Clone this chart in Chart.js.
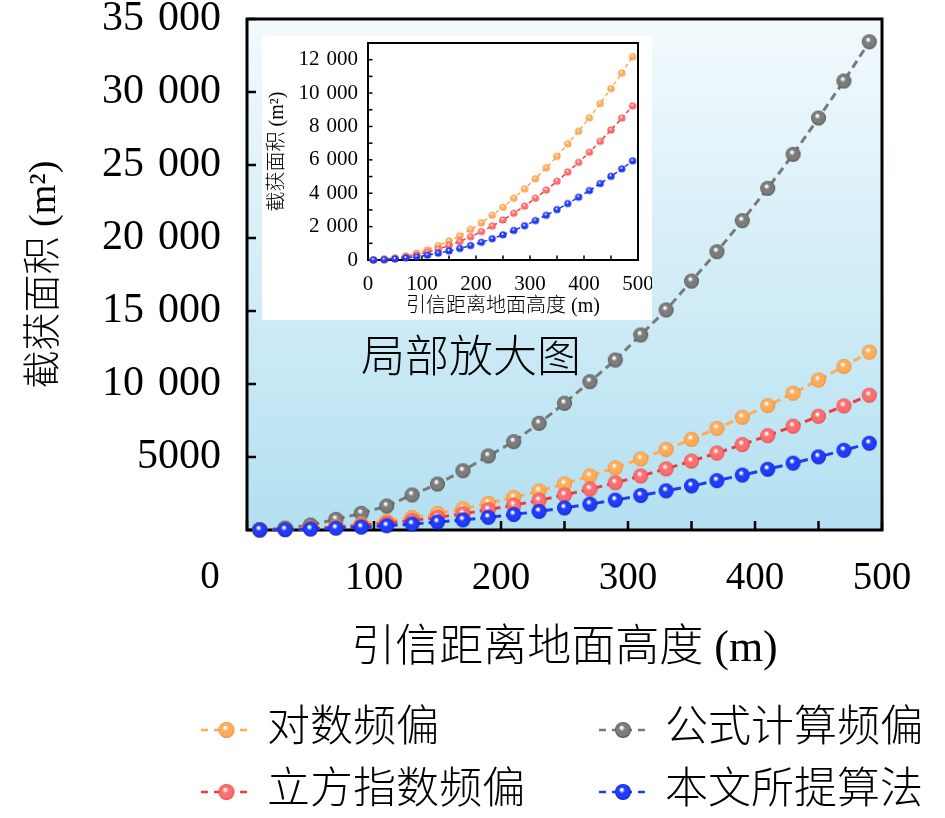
<!DOCTYPE html>
<html>
<head>
<meta charset="utf-8">
<script src="https://cdn.jsdelivr.net/npm/chart.js@4.4.1/dist/chart.umd.min.js"></script>
<style>
  html, body { margin: 0; padding: 0; background: #fff; }
  #wrap { position: relative; width: 945px; height: 818px; }
  #main { position: absolute; left: 0; top: 0; }
  #inset { position: absolute; left: 262px; top: 36px; }
</style>
</head>
<body>
<div id="wrap">
  <canvas id="main" width="945" height="818"></canvas>
  <canvas id="inset" width="390" height="284"></canvas>
</div>
<script>
// heights above ground (m)
const heights = [10, 30, 50, 70, 90, 110, 130, 150, 170, 190, 210, 230, 250,
                 270, 290, 310, 330, 350, 370, 390, 410, 430, 450, 470, 490];

// capture area (m^2)
const logFreq = [5, 45, 125, 245, 410, 610, 860, 1140, 1450, 1830, 2230, 2680, 3160,
                 3700, 4260, 4870, 5520, 6210, 6960, 7720, 8520, 9370, 10270, 11200, 12180];
const formulaFreq = [20, 130, 340, 730, 1140, 1640, 2400, 3150, 4060, 5070, 6050, 7310, 8680,
                     10160, 11640, 13360, 15070, 17050, 19060, 21190, 23400, 25730, 28220, 30750, 33440];
const cubicFreq = [4, 35, 95, 190, 310, 465, 650, 865, 1110, 1390, 1700, 2030, 2400,
                   2800, 3230, 3700, 4190, 4720, 5270, 5850, 6460, 7110, 7790, 8500, 9230];
const proposed = [2, 20, 60, 120, 195, 290, 410, 545, 690, 865, 1060, 1275, 1510,
                  1770, 2050, 2360, 2680, 3020, 3380, 3760, 4160, 4580, 5010, 5460, 5940];

const seriesNames = ['对数频偏', '公式计算频偏', '立方指数频偏', '本文所提算法'];
const xTitle = '引信距离地面高度 (m)';
const yTitle = '截获面积 (m²)';
const insetNote = '局部放大图';

const FONT = "'Liberation Serif', 'Noto Sans CJK SC', serif";
const styles = [
  { line: '#ffab57', body: '#ffad5c', dark: '#e88a2c' },
  { line: '#7a7a7a', body: '#7c7c7c', dark: '#4a4a4a' },
  { line: '#ee3b3b', body: '#ff6e6e', dark: '#d94444' },
  { line: '#1f3df2', body: '#1f3cff', dark: '#0c1fb8' }
];

function sphere(st, r) {
  const s = Math.ceil(2 * r + 2);
  const c = document.createElement('canvas');
  c.width = c.height = s;
  const g = c.getContext('2d');
  const cx = s / 2, cy = s / 2;
  const grd = g.createRadialGradient(cx - r * 0.2, cy - r * 0.35, 0, cx, cy, r);
  grd.addColorStop(0, '#ffffff');
  grd.addColorStop(0.15, '#f4f4f4');
  grd.addColorStop(0.38, st.body);
  grd.addColorStop(0.8, st.body);
  grd.addColorStop(1, st.dark);
  g.fillStyle = grd;
  g.beginPath();
  g.arc(cx, cy, r, 0, Math.PI * 2);
  g.fill();
  return c;
}

// thousands grouped with a slightly wide space, like the LaTeX labels
const group = v => String(v).replace(/\B(?=(\d{3})+(?!\d))/g, ' \u200A');

function pts(arr) { return heights.map((h, i) => ({ x: h, y: arr[i] })); }

const mainSeries = [logFreq, formulaFreq, cubicFreq, proposed];
const drawOrder = [2, 3, 1, 0];

const mainData = {
  datasets: mainSeries.map((arr, i) => ({
    label: seriesNames[i],
    data: pts(arr),
    borderColor: styles[i].line,
    borderWidth: 3,
    borderDash: [8, 5],
    pointStyle: sphere(styles[i], 7.5),
    pointRadius: 7,
    clip: false,
    order: drawOrder[i]
  }))
};

function inwardTicks(chart, len, lw) {
  const { ctx, chartArea: a, scales } = chart;
  ctx.save();
  ctx.strokeStyle = '#000';
  ctx.lineWidth = lw;
  scales.x.ticks.forEach(t => {
    const px = scales.x.getPixelForValue(t.value);
    ctx.beginPath(); ctx.moveTo(px, a.bottom); ctx.lineTo(px, a.bottom - len); ctx.stroke();
  });
  scales.y.ticks.forEach(t => {
    const py = scales.y.getPixelForValue(t.value);
    ctx.beginPath(); ctx.moveTo(a.left, py); ctx.lineTo(a.left + len, py); ctx.stroke();
  });
  ctx.lineWidth = lw + 0.5;
  ctx.strokeRect(a.left, a.top, a.right - a.left, a.bottom - a.top);
  ctx.restore();
}

const mainDecor = {
  id: 'mainDecor',
  beforeDraw(chart) {
    const { ctx, chartArea: a } = chart;
    ctx.save();
    ctx.fillStyle = '#fff';
    ctx.fillRect(0, 0, chart.width, chart.height);
    const grd = ctx.createLinearGradient(0, a.top, 0, a.bottom);
    grd.addColorStop(0, '#f3fafd');
    grd.addColorStop(1, '#b3e0f1');
    ctx.fillStyle = grd;
    ctx.fillRect(a.left, a.top, a.right - a.left, a.bottom - a.top);
    ctx.restore();
  },
  beforeDatasetsDraw(chart) {
    inwardTicks(chart, 9, 2.5);
    const { ctx } = chart;
    ctx.save();
    ctx.fillStyle = '#000';
    ctx.font = '300 44px ' + FONT;
    ctx.textAlign = 'center';
    ctx.textBaseline = 'middle';
    ctx.fillText(insetNote, 471, 360);
    ctx.restore();
  },
  afterDraw(chart) {
    const { ctx, chartArea: a } = chart;
    ctx.save();
    ctx.fillStyle = '#000';
    ctx.font = '39px ' + FONT;
    ctx.textAlign = 'center';
    ctx.textBaseline = 'middle';
    ctx.fillText('0', a.left - 37, a.bottom + 48);
    // legend, two columns
    const colLine = [[201, 252], [599, 647]];
    const colText = [267, 665];
    const rowY = [730, 792];
    chart.data.datasets.forEach((ds, i) => {
      const c = i % 2, r = Math.floor(i / 2);
      const [x0, x1] = colLine[c];
      const y = rowY[r];
      ctx.strokeStyle = styles[i].line;
      ctx.lineWidth = 2.5;
      ctx.setLineDash([7, 6]);
      ctx.beginPath(); ctx.moveTo(x0, y); ctx.lineTo(x1, y); ctx.stroke();
      ctx.setLineDash([]);
      const img = sphere(styles[i], 8);
      ctx.drawImage(img, (x0 + x1) / 2 - img.width / 2, y - img.height / 2);
      ctx.fillStyle = '#000';
      ctx.font = '300 43px ' + FONT;
      ctx.textAlign = 'left';
      ctx.fillText(ds.label, colText[c], y);
    });
    ctx.restore();
  }
};

new Chart(document.getElementById('main'), {
  type: 'line',
  data: mainData,
  options: {
    responsive: false,
    animation: false,
    devicePixelRatio: 1,
    layout: { padding: { left: 0, top: 19, right: 63, bottom: 138 } },
    plugins: { legend: { display: false }, tooltip: { enabled: false } },
    scales: {
      x: {
        type: 'linear', min: 0, max: 500,
        afterFit(s) { s.height = 150; s.paddingLeft = 0; s.paddingRight = 0; },
        grid: { display: false, drawTicks: false },
        border: { display: false },
        ticks: {
          stepSize: 50, autoSkip: false, maxRotation: 0, padding: 25, color: '#000',
          font: { family: FONT, size: 39 },
          callback: v => (v % 100 === 0 && v !== 0) ? String(v) : ''
        },
        title: { display: true, text: xTitle, color: '#000', font: { family: FONT, size: 44, weight: 300 }, padding: { top: 0, bottom: 4 } }
      },
      y: {
        min: 0, max: 35000,
        afterFit(s) { s.width = 247; s.paddingTop = 0; s.paddingBottom = 0; },
        grid: { display: false, drawTicks: false },
        border: { display: false },
        ticks: {
          stepSize: 5000, padding: 26, color: '#000',
          font: { family: FONT, size: 42 },
          callback: v => v === 0 ? '' : (v >= 10000 ? group(v) : String(v))
        },
        title: { display: true, text: yTitle, color: '#000', font: { family: FONT, size: 38, weight: 300 }, padding: { top: 22, bottom: 0 } }
      }
    }
  },
  plugins: [mainDecor]
});

// inset: zoom of the three lower curves
const insetIdx = [0, 2, 3];
const insetDecor = {
  id: 'insetDecor',
  beforeDraw(chart) {
    const { ctx } = chart;
    ctx.save();
    ctx.fillStyle = '#fff';
    ctx.fillRect(0, 0, chart.width, chart.height);
    ctx.restore();
  },
  beforeDatasetsDraw(chart) { inwardTicks(chart, 4.5, 1.5); }
};

new Chart(document.getElementById('inset'), {
  type: 'line',
  data: {
    datasets: insetIdx.map(i => ({
      label: seriesNames[i],
      data: pts(mainSeries[i]),
      borderColor: styles[i].line,
      borderWidth: 1.5,
      borderDash: [4, 3],
      pointStyle: sphere(styles[i], 3.6),
      pointRadius: 4,
      clip: false,
      order: drawOrder[i]
    }))
  },
  options: {
    responsive: false,
    animation: false,
    devicePixelRatio: 1,
    layout: { padding: { left: 0, top: 7, right: 14, bottom: 0 } },
    plugins: { legend: { display: false }, tooltip: { enabled: false } },
    scales: {
      x: {
        type: 'linear', min: 0, max: 500,
        afterFit(s) { s.height = 60; s.paddingLeft = 0; s.paddingRight = 0; },
        grid: { display: false, drawTicks: false },
        border: { display: false },
        ticks: {
          stepSize: 50, autoSkip: false, maxRotation: 0, padding: 12, color: '#000',
          font: { family: FONT, size: 21 },
          callback: v => v % 100 === 0 ? String(v) : ''
        },
        title: { display: true, text: xTitle, color: '#000', font: { family: FONT, size: 20, weight: 300 }, padding: { top: 0, bottom: 1 } }
      },
      y: {
        min: 0, max: 13000,
        afterFit(s) { s.width = 106; s.paddingTop = 0; s.paddingBottom = 0; },
        grid: { display: false, drawTicks: false },
        border: { display: false },
        ticks: {
          stepSize: 1000, autoSkip: false, padding: 10, color: '#000',
          font: { family: FONT, size: 21 },
          callback: v => v % 2000 === 0 ? group(v) : ''
        },
        title: { display: true, text: yTitle, color: '#000', font: { family: FONT, size: 20, weight: 300 }, padding: { top: 4, bottom: 0 } }
      }
    }
  },
  plugins: [insetDecor]
});
</script>
</body>
</html>
